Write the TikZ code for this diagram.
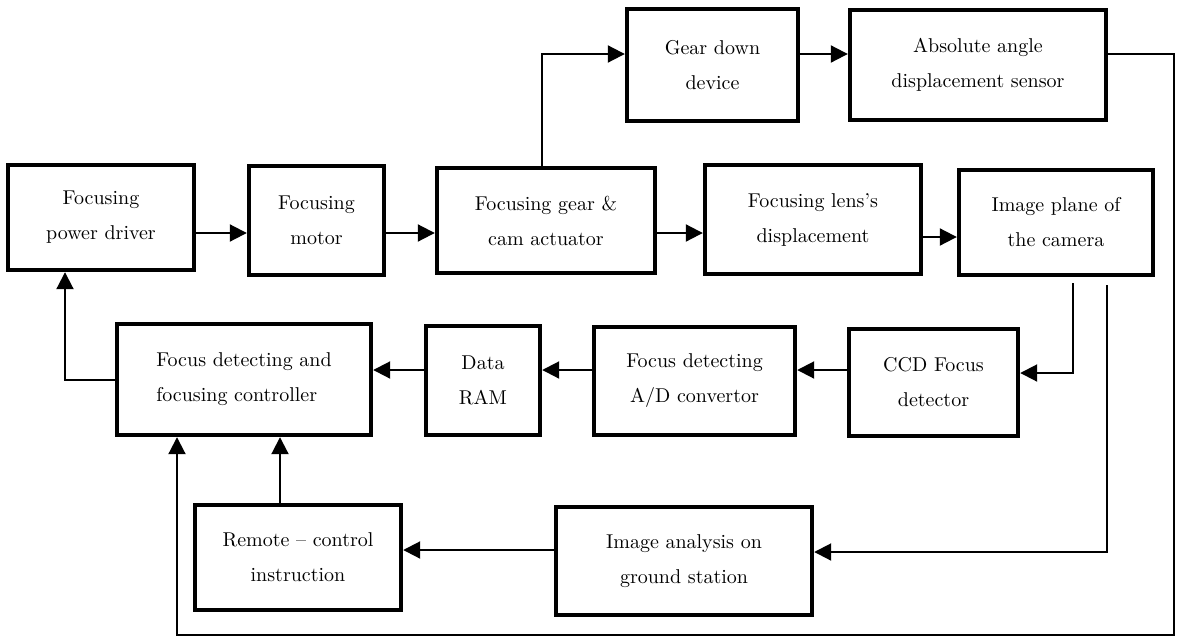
\documentclass[tikz,border=0pt]{standalone}
\usepackage{tikz}
\usetikzlibrary{arrows.meta,positioning,calc}

\begin{document}
\begin{tikzpicture}[x=0.5pt,y=-0.5pt,
  blk/.style={draw,line width=2.2pt,inner sep=0pt,align=center,font=\fontsize{10}{17.5}\selectfont},
  lnk/.style={->,line width=1pt},
  >={Triangle[length=8.5pt,width=8.5pt]}]
\useasboundingbox (0,0) rectangle (1181,637);

% forward path
\node[blk,minimum width=93pt,minimum height=52.5pt] (pdrv) at (101,217.5) {Focusing\\power driver};
\node[blk,minimum width=67.5pt,minimum height=54.5pt] (motor) at (316.5,220.5) {Focusing\\motor};
\node[blk,minimum width=109pt,minimum height=52.5pt] (gear) at (546,220.5) {Focusing gear \&\\cam actuator};
\node[blk,minimum width=108pt,minimum height=54.5pt] (lens) at (813,219.5) {Focusing lens's\\displacement};
\node[blk,minimum width=97pt,minimum height=52.5pt] (img) at (1056,222.5) {Image plane of\\the camera};
\node[blk,minimum width=85.5pt,minimum height=56pt] (gdown) at (712.5,65) {Gear down\\device};
\node[blk,minimum width=128pt,minimum height=55pt] (abs) at (978,65) {Absolute angle\\displacement sensor};

% detecting path
\node[blk,minimum width=127pt,minimum height=55.5pt,align=left] (ctrl) at (244,379.5) {Focus detecting and\\focusing controller};
\node[blk,minimum width=57pt,minimum height=54.5pt] (ram) at (483,380.5) {Data\\RAM};
\node[blk,minimum width=100.5pt,minimum height=54pt] (adc) at (694.5,381) {Focus detecting\\A/D convertor};
\node[blk,minimum width=84.5pt,minimum height=53.5pt] (ccd) at (933.5,382.5) {CCD Focus\\detector};
\node[blk,minimum width=103pt,minimum height=52.5pt] (remote) at (298,557.5) {Remote -- control\\instruction};
\node[blk,minimum width=128pt,minimum height=54pt] (ana) at (684,561) {Image analysis on\\ground station};

\coordinate (r1) at (0,233);
\coordinate (r2) at (0,237);
\coordinate (r3) at (0,370);
\coordinate (r4) at (0,550);
\coordinate (g1) at (542,54);
\coordinate (fb) at (1174,635);
\coordinate (fb2) at (177,635);
\coordinate (c2) at (65,380);
\coordinate (c3) at (1073,373);
\coordinate (c4) at (1107,552);
\coordinate (c5) at (280,0);

\draw[lnk] (pdrv.east |- r1) -- (motor.west |- r1);
\draw[lnk] (motor.east |- r1) -- (gear.west |- r1);
\draw[lnk] (gear.east |- r1) -- (lens.west |- r1);
\draw[lnk] (lens.east |- r2) -- (img.west |- r2);
\draw[lnk] (gear.north -| g1) |- (gdown.west |- g1);
\draw[lnk] (gdown.east |- g1) -- (abs.west |- g1);

% feedback
\draw[lnk] (abs.east |- g1) -| (fb) -| (ctrl.south -| fb2);
\draw[lnk,shorten <=3pt] (img.south -| c3) |- (ccd.east |- c3);
\draw[lnk,shorten <=4pt] (img.south -| c4) |- (ana.east |- c4);
\draw[lnk] (ccd.west |- r3) -- (adc.east |- r3);
\draw[lnk] (adc.west |- r3) -- (ram.east |- r3);
\draw[lnk] (ram.west |- r3) -- (ctrl.east |- r3);
\draw[lnk] (ana.west |- r4) -- (remote.east |- r4);
\draw[lnk] (remote.north -| c5) -- (ctrl.south -| c5);
\draw[lnk] (ctrl.west |- c2) -| (pdrv.south -| c2);
\end{tikzpicture}
\end{document}
